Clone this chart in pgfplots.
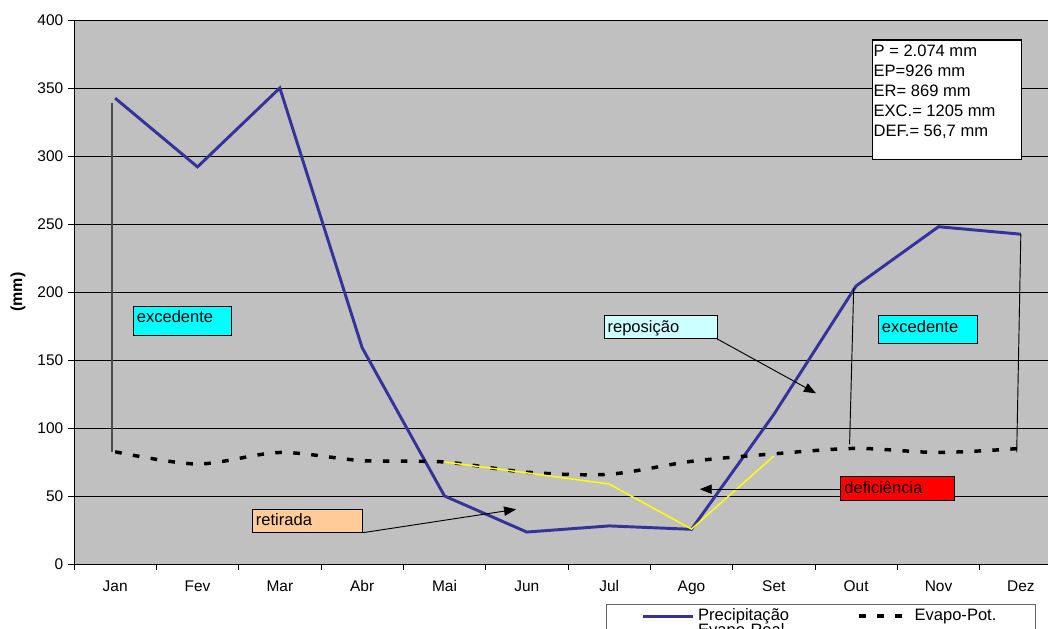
\documentclass[border=0pt]{standalone}
\usepackage{fontspec}
\setmainfont{Liberation Sans}
\usepackage{pgfplots}
\pgfplotsset{compat=1.18}
\usetikzlibrary{arrows.meta}

\definecolor{fundo}{HTML}{C0C0C0}
\definecolor{azul}{HTML}{333399}
\definecolor{amarelo}{HTML}{FFFF00}
\definecolor{ciano}{HTML}{00FFFF}
\definecolor{cianoclaro}{HTML}{CCFFFF}
\definecolor{vermelho}{HTML}{FF0000}
\definecolor{laranja}{HTML}{FFCC99}

% precipitacao, evapotranspiracao potencial e real (mm)
\pgfplotstableread{
x   P      EP
0.5 342.5  82.5
1.5 292.0  73.5
2.5 350.0  82.0
3.5 159.0  76.0
4.5 50.0   75.0
5.5 23.5   67.5
6.5 28.0   66.0
7.5 25.5   75.5
8.5 110.0  81.0
9.5 204.5  85.0
10.5 248.0 82.0
11.5 242.5 85.0
}\balanco

\begin{document}
\begin{tikzpicture}
\useasboundingbox (0pt,0pt) rectangle (786pt,471pt);
\begin{axis}[
    at={(55.5pt,48pt)}, anchor=south west,
    scale only axis, width=741pt, height=408pt,
    xmin=0, xmax=12, ymin=0, ymax=400,
    xtick={0,...,12},
    xticklabels={Jan,Fev,Mar,Abr,Mai,Jun,Jul,Ago,Set,Out,Nov,Dez},
    x tick label as interval,
    ytick={0,50,...,400},
    axis x line*=bottom, axis y line*=left,
    ymajorgrids, grid style={black, line width=0.6pt},
    axis background/.style={fill=fundo},
    tick align=outside, major tick length=4.5pt,
    tick style={black, line width=0.6pt},
    axis line style={black, line width=0.6pt},
    ticklabel style={font=\fontsize{11.6}{14}\selectfont},
    xticklabel style={yshift=-4.5pt},
    /pgf/number format/assume math mode=true,
    ylabel={\textbf{(mm)}},
    ylabel style={at={(axis description cs:-0.0567,0.5)}, anchor=center,
        font=\fontsize{12}{14}\selectfont},
    legend columns=2,
    legend cell align=left,
    legend image code/.code={\draw[#1] (0pt,0pt) -- (37.5pt,0pt);},
    legend style={at={(axis description cs:0.5385,-0.0735)}, anchor=north west,
        draw=black!60, line width=0.8pt, fill=white,
        font=\fontsize{12.4}{14}\selectfont,
        inner xsep=26pt, inner ysep=3pt,
        nodes={inner xsep=3pt, inner ysep=0pt, text height=9pt, text depth=2.5pt},
        /tikz/every even column/.append style={column sep=48pt}},
    no markers,
]
\addplot[azul, line width=2.2pt] table[x=x, y=P] {\balanco};
\addlegendentry{Precipitação}
\addplot[black, line width=2.6pt, dash pattern=on 5pt off 8.5pt, smooth] table[x=x, y=EP] {\balanco};
\addlegendentry{Evapo-Pot.}
\addplot[amarelo, line width=1.1pt] coordinates {(4.5,75) (5.5,67) (6.5,58.8) (7.5,25.7) (8.5,79.4)};
\addlegendentry{Evapo-Real}

% linhas verticais
\draw[black!70, line width=1.4pt] (axis cs:0.46,339) -- (axis cs:0.46,82);
\draw[black, line width=0.7pt] (axis cs:9.47,203) -- (axis cs:9.42,88);
\draw[black, line width=0.7pt] (axis cs:11.50,242.6) -- (axis cs:11.45,82);

% setas
\draw[black, line width=0.7pt, -{Triangle[length=9pt,width=7pt]}] (axis cs:7.806,165.7) -- (axis cs:9.012,125.5);
\draw[black, line width=0.7pt, -{Triangle[length=9pt,width=7pt]}] (axis cs:3.507,23.0) -- (axis cs:5.369,40.2);
\draw[black, line width=0.7pt, -{Triangle[length=9pt,width=7pt]}] (axis cs:9.313,55) -- (axis cs:7.60,55);

% caixas de texto
\draw[black, line width=0.6pt, fill=ciano] (axis cs:0.72,189.7) rectangle (axis cs:1.915,168.2);
\node[anchor=north west, inner xsep=2.5pt, inner ysep=3.5pt, font=\fontsize{12.4}{14}\selectfont] at (axis cs:0.72,189.7) {excedente};
\draw[black, line width=0.6pt, fill=cianoclaro] (axis cs:6.437,182.9) rectangle (axis cs:7.814,165.7);
\node[anchor=north west, inner xsep=2.5pt, inner ysep=3.5pt, font=\fontsize{12.4}{14}\selectfont] at (axis cs:6.437,182.9) {reposição};
\draw[black, line width=0.6pt, fill=ciano] (axis cs:9.769,182.6) rectangle (axis cs:10.972,162.0);
\node[anchor=north west, inner xsep=2.5pt, inner ysep=3.5pt, font=\fontsize{12.4}{14}\selectfont] at (axis cs:9.769,182.6) {excedente};
\draw[black, line width=0.6pt, fill=vermelho] (axis cs:9.313,64.2) rectangle (axis cs:10.689,46.5);
\node[anchor=north west, inner xsep=2.5pt, inner ysep=3.5pt, font=\fontsize{12.4}{14}\selectfont] at (axis cs:9.313,64.2) {deficiência};
\draw[black, line width=0.6pt, fill=laranja] (axis cs:2.166,40.4) rectangle (axis cs:3.507,23.0);
\node[anchor=north west, inner xsep=2.5pt, inner ysep=3.5pt, font=\fontsize{12.4}{14}\selectfont] at (axis cs:2.166,40.4) {retirada};

\draw[black, line width=0.8pt, fill=white] (axis cs:9.693,385.3) rectangle (axis cs:11.511,297.6);
\node[anchor=north west, align=left, inner xsep=1pt, inner ysep=3.75pt,
      font=\fontsize{12.4}{15}\selectfont] at (axis cs:9.693,385.3)
      {P = 2.074 mm\\EP=926 mm\\ER= 869 mm\\EXC.= 1205 mm\\DEF.= 56,7 mm};
\end{axis}
\end{tikzpicture}
\end{document}
